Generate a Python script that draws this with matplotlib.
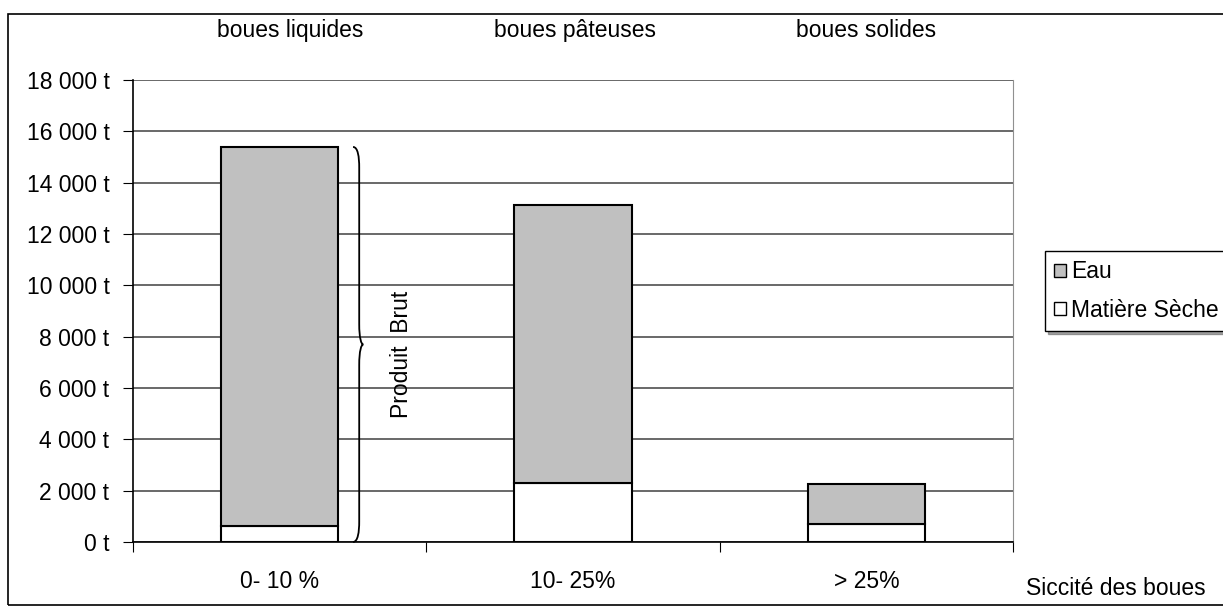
import matplotlib.pyplot as plt
import numpy as np
from matplotlib.path import Path
from matplotlib.patches import PathPatch, Rectangle
from matplotlib.transforms import blended_transform_factory

plt.rcParams['font.family'] = ['Liberation Sans', 'DejaVu Sans']

categories = ["0- 10 %", "10- 25%", "> 25%"]
groups = ["boues liquides", "boues pâteuses", "boues solides"]
matiere_seche = [620, 2280, 690]
eau = [14770, 10850, 1580]
yticks = np.arange(0, 18001, 2000)
ytick_labels = [f"{v:,} t".replace(",", " ") for v in yticks]

fs = 16.5
fig = plt.figure(figsize=(12.23, 6.10), dpi=100)
ax = fig.add_axes([0.1088, 0.1115, 0.7195, 0.7574])

x = np.arange(len(categories))
w = 0.4
ax.bar(x, matiere_seche, w, color="white", edgecolor="black", lw=1.5,
       label="Matière Sèche", zorder=3)
ax.bar(x, eau, w, bottom=matiere_seche, color="#c0c0c0", edgecolor="black",
       lw=1.5, label="Eau", zorder=3)

ax.set_xlim(-0.5, 2.5)
ax.set_ylim(0, 18000)
ax.set_yticks(yticks)
ax.set_yticklabels(ytick_labels, fontsize=fs)
ax.yaxis.grid(True, color="#404040", lw=1.1, zorder=0)
ax.set_xticks([-0.5, 0.5, 1.5, 2.5])
ax.set_xticklabels([])
ax.set_xticks(x, minor=True)
ax.set_xticklabels(categories, minor=True, fontsize=fs)
ax.tick_params(axis="x", which="minor", length=0, pad=20)
ax.tick_params(axis="x", which="major", length=7, color="black")
ax.tick_params(axis="y", length=7, pad=10)
ax.spines["top"].set_visible(False)
ax.spines["right"].set_color("#909090")
ax.spines["left"].set_linewidth(1.2)
ax.spines["bottom"].set_linewidth(1.2)

# group names above the plot
tr = blended_transform_factory(ax.transData, fig.transFigure)
offsets = [0.035, 0.005, 0.0]
for i, g in enumerate(groups):
    ax.text(i + offsets[i], 0.95, g, transform=tr, ha="center", va="center",
            fontsize=fs)

# curly brace beside the first bar spanning the whole stack
top = matiere_seche[0] + eau[0]
mid = top / 2
xb = x[0] + w / 2 + 0.05
d = 0.021
t = 0.014
dy = 800
verts = [
    (xb, top), (xb + 0.8 * d, top), (xb + d, top - 0.5 * dy), (xb + d, top - dy),
    (xb + d, mid + dy),
    (xb + d, mid + 0.3 * dy), (xb + d + 0.5 * t, mid), (xb + d + t, mid),
    (xb + d + t, mid),
    (xb + d + 0.5 * t, mid), (xb + d, mid - 0.3 * dy), (xb + d, mid - dy),
    (xb + d, dy),
    (xb + d, 0.5 * dy), (xb + 0.8 * d, 0), (xb, 0),
]
codes = [Path.MOVETO, Path.CURVE4, Path.CURVE4, Path.CURVE4,
         Path.LINETO,
         Path.CURVE4, Path.CURVE4, Path.CURVE4,
         Path.MOVETO,
         Path.CURVE4, Path.CURVE4, Path.CURVE4,
         Path.LINETO,
         Path.CURVE4, Path.CURVE4, Path.CURVE4]
ax.add_patch(PathPatch(Path(verts, codes), fill=False, lw=1.3,
                       edgecolor="black", zorder=4, clip_on=False))
ax.text(xb + 0.165, mid - 400, "Produit  Brut", rotation=90, ha="center",
        va="center", fontsize=fs, zorder=4)

fig.text(0.9125, 0.036, "Siccité des boues", ha="center", va="center",
         fontsize=fs)

# outer frame
fig.patches.append(Rectangle((8 / 1223, 5 / 610), 1.1, 591 / 610,
                             transform=fig.transFigure, fill=False,
                             edgecolor="black", lw=1.2))

handles, labels = ax.get_legend_handles_labels()
leg = fig.legend(handles[::-1], labels[::-1], loc="upper left",
                 bbox_to_anchor=(1045 / 1223, 1 - 251 / 610), fontsize=fs,
                 frameon=True, fancybox=False, shadow=True, handlelength=0.5,
                 handleheight=0.5, handletextpad=0.25, borderpad=0.4,
                 labelspacing=0.68, borderaxespad=0)
leg.get_frame().set_edgecolor("black")
leg.get_frame().set_linewidth(1.0)
for h in leg.legend_handles:
    h.set_linewidth(1.0)

fig.savefig("out.png", dpi=100)
